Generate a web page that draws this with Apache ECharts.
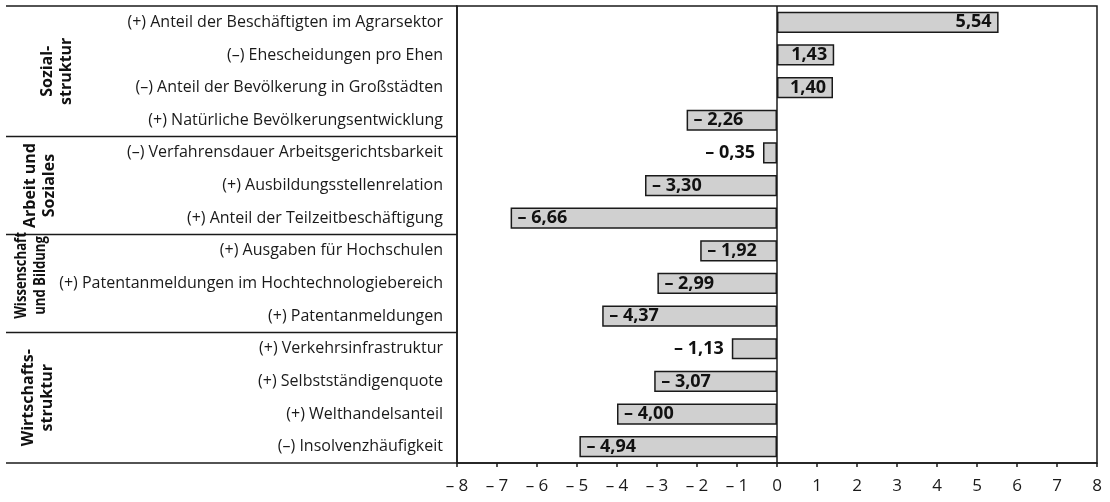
<!DOCTYPE html>
<html>
<head>
<meta charset="utf-8">
<script src="https://cdn.jsdelivr.net/npm/echarts@6/dist/echarts.min.js"></script>
<style>
html,body{margin:0;padding:0;background:#fff;}
#chart{width:1110px;height:502px;}
</style>
</head>
<body>
<div id="chart"></div>
<script>
const categories = [
  '(+) Anteil der Beschäftigten im Agrarsektor',
  '(–) Ehescheidungen pro Ehen',
  '(–) Anteil der Bevölkerung in Großstädten',
  '(+) Natürliche Bevölkerungsentwicklung',
  '(–) Verfahrensdauer Arbeitsgerichtsbarkeit',
  '(+) Ausbildungsstellenrelation',
  '(+) Anteil der Teilzeitbeschäftigung',
  '(+) Ausgaben für Hochschulen',
  '(+) Patentanmeldungen im Hochtechnologiebereich',
  '(+) Patentanmeldungen',
  '(+) Verkehrsinfrastruktur',
  '(+) Selbstständigenquote',
  '(+) Welthandelsanteil',
  '(–) Insolvenzhäufigkeit'
];
const values = [5.54, 1.43, 1.40, -2.26, -0.35, -3.30, -6.66, -1.92, -2.99, -4.37, -1.13, -3.07, -4.00, -4.94];
const groupNames = ['Sozial-\nstruktur', 'Arbeit und\nSoziales', 'Wissenschaft\nund Bildung', 'Wirtschafts-\nstruktur'];
const groupSizes = [4, 3, 3, 4];
const xMin = -8, xMax = 8, xStep = 1;

// layout (not data)
const groupLabelX = [57, 40, 31, 38];
const groupLabelDY = [0, 0, -8, 0];
const groupLabelSquash = [1, 1, 0.82, 1];
const FONT = '"Open Sans", sans-serif';

function fmt(v) {
  const s = Math.abs(v).toFixed(2).replace('.', ',');
  return v < 0 ? '– ' + s : s;
}

const chart = echarts.init(document.getElementById('chart'), null, {renderer: 'canvas'});

const barData = values.map(v => {
  let pos;
  if (v > 0) pos = 'insideRight';
  else if (v < -1.5) pos = 'insideLeft';
  else pos = 'left';
  return {value: v, label: {position: pos, distance: pos === 'left' ? 8 : 7}};
});

const option = {
  animation: false,
  backgroundColor: '#fff',
  grid: {
    left: 457, right: 13, top: 6, bottom: 39,
    show: true, borderColor: '#1a1a1a', borderWidth: 1.5, backgroundColor: 'transparent'
  },
  xAxis: {
    type: 'value', min: xMin, max: xMax, interval: xStep,
    splitLine: {show: false},
    axisLine: {show: true, onZero: false, lineStyle: {color: '#1a1a1a', width: 1.5}},
    axisTick: {show: true, length: 4, lineStyle: {color: '#1a1a1a', width: 1.5}},
    axisLabel: {
      margin: 15, color: '#1a1a1a', fontFamily: FONT, fontSize: 17,
      formatter: v => v < 0 ? '– ' + Math.abs(v) : String(v)
    }
  },
  yAxis: {
    type: 'category', data: categories, inverse: true,
    axisLine: {show: true, onZero: false, lineStyle: {color: '#1a1a1a', width: 1.5}},
    axisTick: {show: false},
    splitLine: {show: false},
    axisLabel: {margin: 14, color: '#1a1a1a', fontFamily: FONT, fontSize: 16}
  },
  series: [{
    type: 'bar',
    data: barData,
    barCategoryGap: '35%',
    itemStyle: {color: '#d0d0d0', borderColor: '#1a1a1a', borderWidth: 1.5},
    label: {
      show: true, color: '#111', fontFamily: FONT, fontSize: 18, fontWeight: 'bold',
      formatter: p => fmt(p.value)
    },
    markLine: {
      silent: true, symbol: ['none', 'none'], label: {show: false},
      lineStyle: {color: '#1a1a1a', width: 1.5, type: 'solid'},
      data: [{xAxis: 0}]
    }
  }]
};
chart.setOption(option);

// group separators and labels, positioned via the axis scale
const y0 = chart.convertToPixel({yAxisIndex: 0}, 0);
const y1 = chart.convertToPixel({yAxisIndex: 0}, 1);
const band = y1 - y0;
const gridLeft = chart.convertToPixel({xAxisIndex: 0}, xMin);
const topY = y0 - band / 2;
const graphics = [];
graphics.push({type: 'line', shape: {x1: 6, y1: topY, x2: gridLeft, y2: topY}, style: {stroke: '#1a1a1a', lineWidth: 1.5}, silent: true});
let start = 0;
groupSizes.forEach((n, gi) => {
  const end = start + n - 1;
  const ys = chart.convertToPixel({yAxisIndex: 0}, start) - band / 2;
  const ye = chart.convertToPixel({yAxisIndex: 0}, end) + band / 2;
  graphics.push({type: 'line', shape: {x1: 6, y1: ye, x2: gridLeft, y2: ye}, style: {stroke: '#1a1a1a', lineWidth: 1.5}, silent: true});
  graphics.push({
    type: 'text', x: groupLabelX[gi], y: (ys + ye) / 2 + groupLabelDY[gi], rotation: Math.PI / 2,
    scaleX: groupLabelSquash[gi],
    style: {text: groupNames[gi], fill: '#111', font: 'bold 16px ' + FONT, align: 'center', verticalAlign: 'middle', lineHeight: 19},
    silent: true
  });
  start = end + 1;
});
chart.setOption({graphic: graphics});
</script>
</body>
</html>
